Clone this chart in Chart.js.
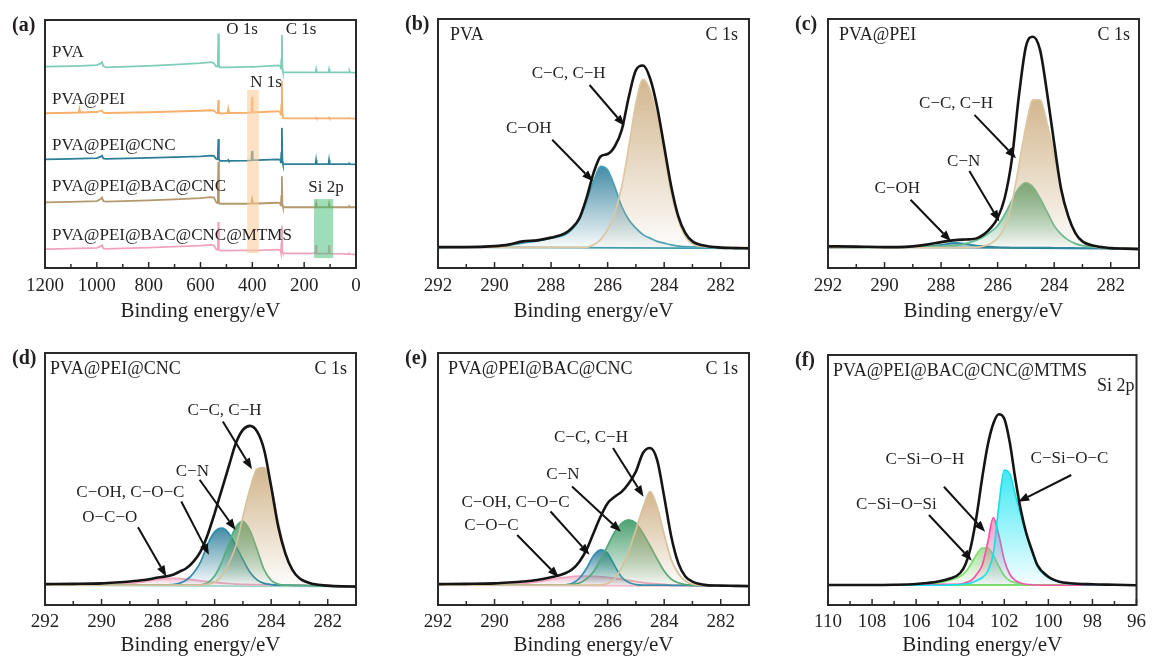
<!DOCTYPE html>
<html>
<head>
<meta charset="utf-8">
<script src="https://cdn.jsdelivr.net/npm/chart.js@4.4.1/dist/chart.umd.min.js"></script>
<style>
  html, body { margin: 0; padding: 0; background: #fff; overflow: hidden; }
  #wrap { position: relative; width: 1152px; height: 656px; }
  canvas { position: absolute; }
</style>
</head>
<body>
<div id="wrap">
  <canvas id="chartA" width="384" height="328" style="left:0px;top:0px"></canvas>
  <canvas id="chartB" width="384" height="328" style="left:384px;top:0px"></canvas>
  <canvas id="chartC" width="384" height="328" style="left:768px;top:0px"></canvas>
  <canvas id="chartD" width="384" height="328" style="left:0px;top:328px"></canvas>
  <canvas id="chartE" width="384" height="328" style="left:384px;top:328px"></canvas>
  <canvas id="chartF" width="384" height="328" style="left:768px;top:328px"></canvas>
</div>
<script>
// ---------- (a) survey spectra ----------
const surveyEnergy = [1200, 1100, 1070, 1067, 1064, 1000, 985, 980, 975, 965,
  800, 700, 600, 560, 548, 540, 535, 533, 531, 529,
  525, 500, 495, 493, 491, 420, 405, 403, 401, 399,
  380, 300, 292, 290, 288, 286, 284, 282, 275, 200,
  156, 154, 152, 106, 104, 102, 50, 27, 25, 23, 0];
const surveyPVA = [81.2, 81.4, 81.5, 81.5, 81.5, 81.8, 82.5, 83.0, 81.4, 80.9,
  81.5, 82.0, 82.6, 83.0, 82.6, 81.3, 81.2, 84.0, 94.6, 82.0,
  80.9, 80.9, 80.9, 80.9, 80.9, 81.1, 81.1, 81.1, 81.2, 81.1,
  81.2, 81.7, 81.5, 80.2, 84.0, 94.0, 80.0, 79.0, 78.9, 78.9,
  78.9, 80.1, 78.9, 78.9, 80.1, 78.9, 78.9, 78.9, 79.4, 78.9, 78.8];
const surveyPEI = [62.4, 62.6, 62.7, 64.2, 62.7, 62.9, 63.4, 63.5, 62.6, 62.5,
  62.8, 63.1, 63.4, 63.6, 63.5, 62.6, 62.5, 64.0, 67.7, 62.8,
  62.3, 62.4, 62.6, 64.0, 62.5, 62.6, 62.7, 64.0, 69.0, 62.8,
  62.8, 63.2, 62.8, 61.5, 66.0, 75.5, 62.0, 60.5, 60.3, 60.3,
  60.3, 60.6, 60.3, 60.3, 60.6, 60.3, 60.3, 60.3, 60.4, 60.3, 60.2];
const surveyCNC = [43.8, 44.0, 44.1, 44.1, 44.1, 44.3, 44.9, 45.3, 44.2, 44.0,
  44.4, 44.7, 45.0, 45.3, 45.2, 44.0, 43.8, 46.0, 52.0, 44.0,
  43.2, 43.2, 43.2, 43.5, 43.2, 43.3, 43.4, 44.5, 47.2, 43.6,
  43.5, 43.8, 43.6, 42.3, 46.5, 56.5, 43.0, 42.0, 41.9, 41.9,
  41.9, 43.5, 41.9, 41.9, 43.5, 41.9, 41.9, 41.9, 42.1, 41.9, 41.8];
const surveyBAC = [26.5, 26.7, 26.8, 26.8, 26.8, 27.0, 27.8, 28.4, 27.0, 26.8,
  27.3, 27.7, 28.2, 28.6, 28.4, 26.6, 26.2, 30.0, 42.8, 26.5,
  25.9, 25.9, 25.9, 25.9, 25.9, 25.9, 26.0, 26.5, 27.6, 26.0,
  26.0, 26.3, 26.0, 24.9, 29.0, 37.0, 25.5, 24.6, 24.5, 24.5,
  24.5, 25.8, 24.5, 24.5, 25.8, 24.5, 24.5, 24.5, 24.8, 24.5, 24.5];
const surveyMTMS = [7.6, 7.8, 7.9, 7.9, 7.9, 8.1, 8.8, 9.2, 7.9, 7.7,
  8.2, 8.6, 9.0, 9.3, 9.1, 7.6, 7.3, 10.0, 18.5, 7.5,
  7.0, 7.0, 7.0, 7.0, 7.0, 7.1, 7.1, 7.1, 7.2, 7.1,
  7.1, 7.4, 7.2, 6.3, 10.0, 17.0, 6.5, 6.0, 5.9, 5.9,
  5.9, 9.3, 5.8, 5.8, 9.3, 5.8, 5.7, 5.6, 5.8, 5.6, 5.5];
const surveyNames = ['PVA', 'PVA@PEI', 'PVA@PEI@CNC', 'PVA@PEI@BAC@CNC', 'PVA@PEI@BAC@CNC@MTMS'];
const surveyTicks = [1200, 1000, 800, 600, 400, 200, 0];
const bandN1s = [420, 375, 6, 71.8];
const bandSi2p = [162, 88, 4, 27.8];

// ---------- C 1s fits (b)-(e) ----------
const c1sEnergy = [292, 291, 290, 289.5, 289, 288.5, 288, 287.5, 287.25, 287,
  286.75, 286.5, 286.25, 286, 285.75, 285.5, 285.25, 285, 284.75, 284.5,
  284.25, 284, 283.75, 283.5, 283.25, 283, 282.5, 282, 281.5, 281];
const c1sTicks = [292, 290, 288, 286, 284, 282];

const pvaEnvelope = [8.4, 8.4, 8.8, 9.4, 10.7, 11.1, 12.2, 14.0, 16.2, 20.0,
  28.0, 38.1, 44.8, 45.8, 48.8, 55.5, 68.8, 79.5, 81.3, 76.2,
  64.8, 48.8, 32.7, 20.7, 14.0, 10.7, 8.8, 8.2, 8.0, 7.9];
const pvaCC = [8.3, 8.3, 8.3, 8.3, 8.3, 8.3, 8.3, 8.3, 8.3, 8.3,
  8.3, 9.3, 11.4, 15.4, 22, 32.7, 48.8, 66.2, 75.8, 71.5,
  60.8, 46.1, 30, 19.4, 12.7, 9.7, 8.5, 8.3, 8.3, 8.3];
const pvaCOH = [8.2, 8.4, 8.8, 9.2, 10.0, 10.8, 12.0, 13.4, 15.6, 19.4,
  26.7, 34.7, 40.8, 39.4, 32.7, 24.7, 19.4, 16.0, 13.4, 12.0,
  10.7, 10.0, 9.3, 8.8, 8.6, 8.5, 8.3, 8.2, 8.1, 8.0];

const peiEnvelope = [8.7, 8.6, 8.4, 8.4, 8.7, 9.4, 10.4, 11.2, 11.4, 11.5,
  11.9, 13.4, 16.0, 20.1, 28.1, 43.4, 68.9, 88.9, 92.9, 87.6,
  70.2, 50.1, 31.4, 20.7, 14.0, 10.7, 8.7, 8.0, 7.8, 7.6];
const peiCC = [8.2, 8.2, 8.2, 8.2, 8.2, 8.2, 8.2, 8.2, 8.2, 8.2,
  8.3, 8.8, 9.8, 12.0, 16.5, 26, 41, 57, 67.5, 67.5,
  58, 45, 32, 21, 14, 10.5, 8.4, 8.1, 8.0, 8.0];
const peiCN = [8.2, 8.2, 8.3, 8.4, 8.5, 8.6, 8.8, 9.0, 9.5, 10.2,
  11.2, 12.5, 14.5, 17, 21.5, 27, 32, 34.2, 32.5, 28,
  22.5, 17, 13.5, 11.2, 9.8, 9.0, 8.4, 8.1, 8.0, 8.0];
const peiCOH = [8.2, 8.2, 8.3, 8.3, 8.4, 8.7, 9.3, 10.1, 9.9, 9.4,
  9.0, 8.8, 8.6, 8.4, 8.3, 8.2, 8.2, 8.2, 8.2, 8.2,
  8.2, 8.1, 8.1, 8.1, 8.0, 8.0, 8.0, 7.9, 7.9, 7.9];

const cncEnvelope = [8.3, 8.4, 8.6, 8.9, 9.3, 9.9, 10.9, 11.9, 13.2, 14.6,
  17.2, 21.2, 27.8, 36.4, 45.7, 55, 64.2, 69.5, 71.1, 68.9,
  61.6, 47, 31.1, 20.5, 13.9, 10.6, 8.3, 7.7, 7.4, 7.3];
const cncCC = [7.9, 7.9, 7.9, 7.9, 7.9, 7.9, 7.9, 7.9, 7.9, 7.9,
  7.9, 7.9, 8.3, 9.0, 11.5, 16.5, 23.5, 35, 46, 54,
  54.5, 47, 33, 21, 14, 10.6, 8.3, 7.7, 7.5, 7.4];
const cncCN = [7.9, 7.9, 7.9, 7.9, 7.9, 7.9, 7.9, 7.9, 7.9, 7.9,
  7.9, 8.0, 8.8, 11.5, 17, 24.5, 31, 33.2, 29.5, 22,
  14, 9.8, 8.3, 7.9, 7.9, 7.8, 7.7, 7.6, 7.5, 7.4];
const cncCOH = [7.9, 7.9, 7.9, 7.9, 7.9, 7.9, 8.0, 8.1, 8.6, 9.9,
  12.6, 17, 24, 29, 30.5, 28.5, 23.5, 18, 13, 10,
  8.6, 8.1, 7.9, 7.9, 7.8, 7.8, 7.7, 7.6, 7.5, 7.4];
const cncOCO = [7.9, 7.9, 8.0, 8.2, 8.5, 9.3, 10.2, 10.6, 10.5, 10.3,
  10.0, 9.6, 9.3, 9.0, 8.7, 8.5, 8.3, 8.2, 8.1, 8.1,
  8.0, 8.0, 7.9, 7.9, 7.8, 7.8, 7.7, 7.6, 7.5, 7.4];

const bacEnvelope = [8.3, 8.4, 8.6, 8.9, 9.3, 9.9, 11.0, 12.6, 14.2, 17.2,
  21.9, 28.5, 35.1, 40.4, 43, 45, 48.3, 53, 60.3, 62.3,
  57.6, 43, 27.2, 16.6, 11.3, 9.3, 7.9, 7.7, 7.6, 7.5];
const bacCC = [7.9, 7.9, 7.9, 7.9, 7.9, 7.9, 7.9, 7.9, 7.9, 7.9,
  7.9, 7.9, 8.0, 8.5, 10.5, 15, 21.5, 30, 38.5, 45,
  39, 28, 18, 12.5, 9.5, 8.3, 7.8, 7.6, 7.5, 7.5];
const bacCN = [7.9, 7.9, 7.9, 7.9, 7.9, 7.9, 7.9, 8.0, 8.2, 8.7,
  10.4, 13.2, 18, 23.5, 29, 32.5, 33.8, 32.5, 28.5, 23.5,
  18.3, 13.5, 10.3, 8.8, 8.1, 7.9, 7.8, 7.6, 7.5, 7.5];
const bacCOH = [7.9, 7.9, 7.9, 7.9, 7.9, 7.9, 7.9, 8.0, 8.6, 10.6,
  14.5, 19.5, 21.9, 20.5, 15.5, 11, 8.9, 8.1, 7.9, 7.9,
  7.9, 7.9, 7.8, 7.8, 7.8, 7.7, 7.7, 7.6, 7.5, 7.5];
const bacCOC = [7.9, 7.9, 8.0, 8.2, 8.5, 9.2, 10.1, 11.0, 11.3, 11.5,
  11.5, 11.4, 11.2, 11.0, 10.6, 10.2, 9.8, 9.3, 8.9, 8.6,
  8.4, 8.2, 8.0, 7.9, 7.8, 7.8, 7.7, 7.6, 7.5, 7.5];

// ---------- Si 2p fit (f) ----------
const si2pEnergy = [110, 109, 108, 107, 106, 105.5, 105, 104.5, 104, 103.75,
  103.5, 103.25, 103, 102.75, 102.5, 102.25, 102, 101.75, 101.5, 101.25,
  101, 100.75, 100.5, 100, 99.5, 99, 98, 97, 96];
const si2pTicks = [110, 108, 106, 104, 102, 100, 98, 96];
const mtmsEnvelope = [8.0, 8.0, 8.0, 8.1, 8.4, 8.8, 9.4, 10.5, 12.8, 16.5,
  24, 36, 51, 64, 72.5, 76.3, 74.5, 65, 50.5, 38,
  28.7, 22, 16, 11.3, 9.3, 8.7, 8.3, 8.1, 7.9];
const mtmsSiOC = [7.9, 7.9, 7.9, 7.9, 7.9, 7.9, 7.9, 8.0, 8.2, 8.5,
  8.8, 9.8, 11, 13.5, 20.5, 39.5, 54, 52.5, 44, 36,
  28, 21.5, 15.5, 11, 9.2, 8.5, 8.1, 8.0, 7.9];
const mtmsSiOH = [7.9, 7.9, 7.9, 7.9, 8.0, 8.1, 8.2, 8.3, 8.4, 9.0,
  9.8, 12.3, 16, 25, 35, 28, 18, 12.3, 9.8, 8.8,
  8.3, 8.1, 8.0, 7.9, 7.9, 7.9, 7.9, 7.9, 7.9];
const mtmsSiOSi = [7.9, 7.9, 7.9, 7.9, 7.9, 8.3, 8.8, 9.8, 11.5, 13.3,
  16.5, 20.3, 22.8, 22.8, 20, 15.5, 11.7, 9.7, 8.9, 8.4,
  8.1, 8.0, 7.9, 7.9, 7.9, 7.9, 7.9, 7.9, 7.9];

// ---------- helpers ----------
Chart.defaults.font.family = '"Liberation Serif", "Times New Roman", serif';
Chart.defaults.color = '#231f20';
const INK = '#231f20';

function pts(xs, ys) {
  return xs.map((x, i) => ({ x: x, y: ys[i] }));
}

function fade(rgb, topA, botA) {
  return function (context) {
    const chart = context.chart;
    if (!chart.chartArea) return 'rgba(' + rgb + ',0.3)';
    const ds = chart.data.datasets[context.datasetIndex];
    const peak = Math.max.apply(null, ds.data.map(p => p.y));
    const ys = chart.scales.y;
    const g = chart.ctx.createLinearGradient(0, ys.getPixelForValue(peak), 0, ys.getPixelForValue(ds.fill.value));
    g.addColorStop(0, 'rgba(' + rgb + ',' + topA + ')');
    g.addColorStop(1, 'rgba(' + rgb + ',' + botA + ')');
    return g;
  };
}

function envelope(xs, ys) {
  return { data: pts(xs, ys), borderColor: '#151515', borderWidth: 2.6, fill: false,
    cubicInterpolationMode: 'monotone', pointRadius: 0 };
}
function component(xs, ys, line, rgb, base, topA) {
  return { data: pts(xs, ys), borderColor: line, borderWidth: 1.7,
    fill: { value: base }, backgroundColor: fade(rgb, topA || 0.85, 0.03),
    cubicInterpolationMode: 'monotone', pointRadius: 0 };
}
function baseline(xs, ys, line) {
  return { data: pts(xs, ys), borderColor: line, borderWidth: 1.8, fill: false, pointRadius: 0 };
}

function drawArrow(ctx, x1, y1, x2, y2) {
  const ang = Math.atan2(y2 - y1, x2 - x1);
  const len = 11, half = 4.2;
  const bx = x2 - len * Math.cos(ang), by = y2 - len * Math.sin(ang);
  ctx.beginPath();
  ctx.moveTo(x1, y1);
  ctx.lineTo(bx, by);
  ctx.lineWidth = 2;
  ctx.strokeStyle = '#111';
  ctx.stroke();
  ctx.beginPath();
  ctx.moveTo(x2, y2);
  ctx.lineTo(bx + half * Math.sin(ang), by - half * Math.cos(ang));
  ctx.lineTo(bx - half * Math.sin(ang), by + half * Math.cos(ang));
  ctx.closePath();
  ctx.fillStyle = '#111';
  ctx.fill();
}

function decor(d) {
  return {
    id: 'decor',
    afterDatasetsDraw(chart) {
      const ctx = chart.ctx, a = chart.chartArea, xs = chart.scales.x, ys = chart.scales.y;
      ctx.save();
      (d.bands || []).forEach(b => {
        const x1 = xs.getPixelForValue(b.r[0]), x2 = xs.getPixelForValue(b.r[1]);
        const y1 = ys.getPixelForValue(b.r[2]), y2 = ys.getPixelForValue(b.r[3]);
        ctx.fillStyle = b.color;
        ctx.fillRect(Math.min(x1, x2), Math.min(y1, y2), Math.abs(x2 - x1), Math.abs(y2 - y1));
      });
      // frame
      ctx.strokeStyle = '#2a2a2a';
      ctx.lineWidth = 2;
      ctx.strokeRect(a.left, a.top, a.right - a.left, a.bottom - a.top);
      // inward ticks
      const major = xs.ticks.map(t => t.value);
      ctx.lineWidth = 1.5;
      major.forEach((v, i) => {
        const px = xs.getPixelForValue(v);
        ctx.beginPath(); ctx.moveTo(px, a.bottom); ctx.lineTo(px, a.bottom - 6); ctx.stroke();
        if (i < major.length - 1) {
          const pm = xs.getPixelForValue((v + major[i + 1]) / 2);
          ctx.beginPath(); ctx.moveTo(pm, a.bottom); ctx.lineTo(pm, a.bottom - 4); ctx.stroke();
        }
      });
      // text inside the plot, placed in data units
      ctx.fillStyle = INK;
      ctx.textBaseline = 'middle';
      (d.texts || []).forEach(t => {
        ctx.font = (t.size || 17) + 'px "Liberation Serif"';
        ctx.textAlign = t.align || 'center';
        ctx.fillText(t.text, xs.getPixelForValue(t.x), ys.getPixelForValue(t.y));
      });
      (d.arrows || []).forEach(r => {
        drawArrow(ctx, xs.getPixelForValue(r[0]), ys.getPixelForValue(r[1]),
          xs.getPixelForValue(r[2]), ys.getPixelForValue(r[3]));
      });
      // corner captions
      ctx.fillStyle = INK;
      ctx.font = '18px "Liberation Serif"';
      if (d.sample) {
        ctx.textAlign = 'left';
        ctx.fillText(d.sample, a.left + d.sampleDx, a.top + 16);
      }
      if (d.level) {
        ctx.textAlign = 'right';
        ctx.fillText(d.level, a.right - d.levelDx, a.top + (d.levelDy || 16));
      }
      ctx.font = 'bold 20px "Liberation Serif"';
      ctx.textAlign = 'left';
      ctx.fillText(d.panel, a.left - 33, a.top + 6);
      ctx.restore();
    }
  };
}

function makeChart(id, o) {
  return new Chart(document.getElementById(id), {
    type: 'line',
    data: { datasets: o.datasets },
    options: {
      responsive: false,
      devicePixelRatio: 1,
      animation: false,
      events: [],
      layout: { padding: { left: o.pad[0], right: o.pad[1], top: o.pad[2], bottom: 0 } },
      plugins: { legend: { display: false }, tooltip: { enabled: false } },
      scales: {
        x: {
          type: 'linear', reverse: true, min: o.min, max: o.max,
          afterBuildTicks: s => { s.ticks = o.ticks.map(v => ({ value: v })); },
          afterFit: s => { s.height = o.axisH; },
          grid: { display: false, drawTicks: false },
          border: { display: false },
          ticks: { autoSkip: false, maxRotation: 0, padding: o.tickPad, color: INK,
            font: { size: 19 }, callback: v => String(v) },
          title: { display: true, text: 'Binding energy/eV', color: INK,
            font: { size: 21 }, padding: { top: 0, bottom: o.titlePad } }
        },
        y: { type: 'linear', display: false, min: 0, max: 100 }
      }
    },
    plugins: [decor(o.decor)]
  });
}

const row1 = { axisH: 60, tickPad: 7, titlePad: 4 };
const row2 = { axisH: 51, tickPad: 6, titlePad: -2 };
const TAN = '200,165,115';

// (a)
const surveySets = [
  [surveyPVA, '#7fcdbb'], [surveyPEI, '#f7b06c'], [surveyCNC, '#2c7f96'],
  [surveyBAC, '#b3996d'], [surveyMTMS, '#f1a5bd']
].map(s => ({ data: pts(surveyEnergy, s[0]), borderColor: s[1], borderWidth: 1.8,
  pointRadius: 0, fill: false, tension: 0 }));
makeChart('chartA', Object.assign({}, row1, {
  datasets: surveySets, min: 0, max: 1200, ticks: surveyTicks, pad: [45, 28, 20],
  decor: {
    panel: '(a)',
    bands: [{ r: bandN1s, color: 'rgba(250,200,150,0.55)' }, { r: bandSi2p, color: 'rgba(60,190,115,0.5)' }],
    texts: [
      { text: 'O 1s', x: 440, y: 96 }, { text: 'C 1s', x: 212, y: 96 },
      { text: 'N 1s', x: 347, y: 74.6 }, { text: 'Si 2p', x: 116, y: 32.3 },
      { text: surveyNames[0], x: 1173, y: 86.8, align: 'left' },
      { text: surveyNames[1], x: 1173, y: 68.0, align: 'left' },
      { text: surveyNames[2], x: 1173, y: 49.3, align: 'left' },
      { text: surveyNames[3], x: 1173, y: 32.8, align: 'left' },
      { text: surveyNames[4], x: 1173, y: 12.9, align: 'left' }
    ]
  }
}));

// (b)
makeChart('chartB', Object.assign({}, row1, {
  min: 281, max: 292, ticks: c1sTicks, pad: [54, 19, 19],
  datasets: [
    envelope(c1sEnergy, pvaEnvelope),
    component(c1sEnergy, pvaCC, '#dcc7a2', TAN, 8.3, 0.8),
    component(c1sEnergy, pvaCOH, '#46a1b6', '35,120,150', 8.3),
    baseline([292, 281], [8.4, 7.9], '#3f9db3')
  ],
  decor: {
    panel: '(b)', sample: 'PVA', sampleDx: 12, level: 'C 1s', levelDx: 11,
    texts: [{ text: 'C−C, C−H', x: 287.38, y: 77.9 }, { text: 'C−OH', x: 288.79, y: 56.1 }],
    arrows: [[286.64, 73.5, 285.4, 57.1], [287.96, 51.5, 286.52, 34.8]]
  }
}));

// (c)
makeChart('chartC', Object.assign({}, row1, {
  min: 281, max: 292, ticks: c1sTicks, pad: [60, 13, 19],
  datasets: [
    envelope(c1sEnergy, peiEnvelope),
    component(c1sEnergy, peiCC, '#dcc7a2', TAN, 8.2, 0.8),
    component(c1sEnergy, peiCN, '#62bb8e', '55,150,95', 8.2),
    component(c1sEnergy, peiCOH, '#2f88a3', '35,120,150', 8.2),
    baseline([292, 281], [8.6, 7.7], '#2c7f96')
  ],
  decor: {
    panel: '(c)', sample: 'PVA@PEI', sampleDx: 11, level: 'C 1s', levelDx: 9,
    texts: [{ text: 'C−C, C−H', x: 287.47, y: 65.9 }, { text: 'C−N', x: 287.2, y: 42.8 },
      { text: 'C−OH', x: 289.55, y: 32.1 }],
    arrows: [[286.82, 61.5, 285.35, 44.1], [287.0, 39.0, 285.94, 18.7], [289.08, 27.4, 287.65, 10.7]]
  }
}));

// (d)
makeChart('chartD', Object.assign({}, row2, {
  min: 281, max: 292, ticks: c1sTicks, pad: [45, 28, 25],
  datasets: [
    envelope(c1sEnergy, cncEnvelope),
    component(c1sEnergy, cncCC, '#d8c19b', TAN, 7.9, 0.8),
    component(c1sEnergy, cncCN, '#5aae80', '55,150,95', 7.9),
    component(c1sEnergy, cncCOH, '#2f8cab', '35,120,150', 7.9),
    component(c1sEnergy, cncOCO, '#f2a6bf', '240,150,180', 7.9, 0.6),
    baseline([292, 281], [7.9, 7.3], '#9fd3c8')
  ],
  decor: {
    panel: '(d)', sample: 'PVA@PEI@CNC', sampleDx: 5, level: 'C 1s', levelDx: 9,
    texts: [{ text: 'C−C, C−H', x: 285.65, y: 77.2 }, { text: 'C−N', x: 286.79, y: 53 },
      { text: 'C−OH, C−O−C', x: 288.98, y: 44.6 }, { text: 'O−C−O', x: 289.71, y: 34.7 }],
    arrows: [[285.71, 72.8, 284.68, 53.9], [286.53, 49.7, 285.26, 29.8],
      [287.18, 41.1, 286.2, 19.9], [288.71, 30.9, 287.71, 11.3]]
  }
}));

// (e)
makeChart('chartE', Object.assign({}, row2, {
  min: 281, max: 292, ticks: c1sTicks, pad: [54, 19, 25],
  datasets: [
    envelope(c1sEnergy, bacEnvelope),
    component(c1sEnergy, bacCC, '#d8c19b', TAN, 7.9, 0.8),
    component(c1sEnergy, bacCN, '#4fa877', '45,145,90', 7.9),
    component(c1sEnergy, bacCOH, '#3590b0', '35,120,150', 7.9),
    component(c1sEnergy, bacCOC, '#f2a6bf', '240,150,180', 7.9, 0.65),
    baseline([292, 281], [7.9, 7.5], '#f2b6c8')
  ],
  decor: {
    panel: '(e)', sample: 'PVA@PEI@BAC@CNC', sampleDx: 10, level: 'C 1s', levelDx: 11,
    texts: [{ text: 'C−C, C−H', x: 286.59, y: 66.6 }, { text: 'C−N', x: 287.58, y: 51.7 },
      { text: 'C−OH, C−O−C', x: 289.26, y: 40.7 }, { text: 'C−O−C', x: 290.11, y: 31.4 }],
    arrows: [[285.81, 62.3, 284.73, 43], [287.26, 47, 285.53, 29.1],
      [288.02, 37.1, 286.64, 19.9], [289.2, 27.8, 287.73, 11]]
  }
}));

// (f)
makeChart('chartF', Object.assign({}, row2, {
  min: 96, max: 110, ticks: si2pTicks, pad: [60, 13, 27],
  datasets: [
    envelope(si2pEnergy, mtmsEnvelope),
    component(si2pEnergy, mtmsSiOC, '#12e3ee', '0,225,240', 7.9, 0.75),
    component(si2pEnergy, mtmsSiOH, '#ff4fa8', '235,90,160', 7.9, 0.6),
    component(si2pEnergy, mtmsSiOSi, '#7be26a', '110,200,90', 7.9, 0.6),
    baseline([110, 96], [8.0, 8.0], '#7be26a')
  ],
  decor: {
    panel: '(f)', sample: 'PVA@PEI@BAC@CNC@MTMS', sampleDx: 5, level: 'Si 2p', levelDx: 2, levelDy: 31,
    texts: [{ text: 'C−Si−O−H', x: 105.6, y: 58.3 }, { text: 'C−Si−O−C', x: 99.04, y: 58.7 },
      { text: 'C−Si−O−Si', x: 106.9, y: 40.3 }],
    arrows: [[104.74, 47.3, 102.87, 29.3], [98.96, 52, 101.37, 41.3], [105.42, 36, 103.47, 17.7]]
  }
}));
</script>
</body>
</html>
